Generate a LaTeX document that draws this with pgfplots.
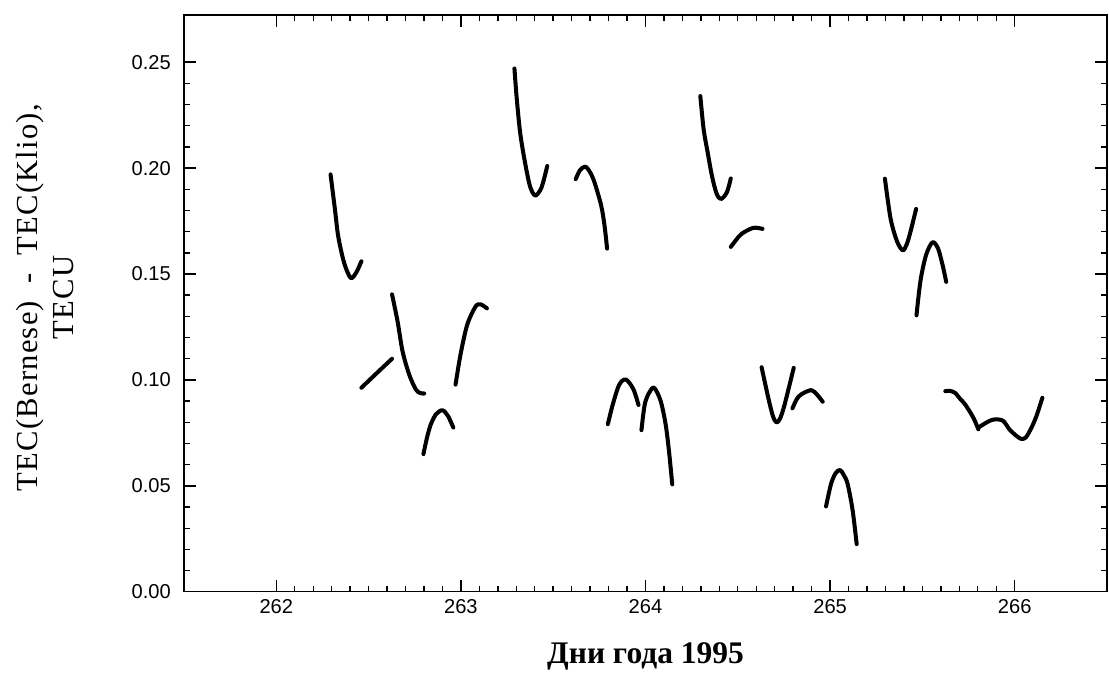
\documentclass[border=0pt]{standalone}
\usepackage{fontspec}
\setmainfont{Liberation Serif}
\newfontfamily\ticksans{Liberation Sans}
\newfontfamily\ylabfont[LetterSpace=4]{Liberation Serif}
\usepackage{pgfplots}
\pgfplotsset{compat=1.18}

% one segment per satellite pass: day of year, TEC difference
\pgfplotsset{seg/.style={black, line width=2.3pt, smooth, tension=0.5, line cap=round, line join=round}}

\begin{document}
\begin{tikzpicture}
\begin{axis}[
  at={(0,0)}, anchor=south west,
  scale only axis, width=18.56cm, height=11.6cm,
  xmin=261.5, xmax=266.5, ymin=0, ymax=0.2723,
  xtick={262,263,264,265,266}, minor x tick num=9,
  ytick={0,0.05,0.10,0.15,0.20,0.25}, minor y tick num=4,
  tick align=inside, major tick length=0.24cm, minor tick length=0.12cm,
  axis line style={line width=0.8pt}, tick style={line width=0.8pt, black},
  x tick label style={/pgf/number format/1000 sep={}},
  y tick label style={/pgf/number format/fixed, /pgf/number format/fixed zerofill, /pgf/number format/precision=2},
  /pgf/number format/assume math mode=true,
  tick label style={font=\ticksans\fontsize{11.5}{13}\selectfont},
  xticklabel style={yshift=-1pt},
  yticklabel style={xshift=-4pt},
  xlabel={Дни года 1995},
  xlabel style={at={(axis description cs:0.5,-0.112)}, anchor=center, font=\bfseries\fontsize{18}{20}\selectfont},
  every axis y label/.style={at={(axis description cs:-0.151,0.51)}, rotate=90, anchor=center, align=center, font=\ylabfont\fontsize{17.5}{20.5}\selectfont},
  ylabel={TEC(Bernese)\ \ -\ \ TEC(Klio),\\TECU},
  clip=false]
\addplot[seg] coordinates {(262.294,0.197) (262.317,0.181) (262.335,0.168) (262.362,0.157) (262.385,0.151) (262.407,0.148) (262.435,0.151) (262.461,0.156)};
\addplot[seg] coordinates {(262.461,0.0963) (262.545,0.1033) (262.627,0.110)};
\addplot[seg] coordinates {(262.627,0.1404) (262.657,0.1276) (262.684,0.1135) (262.72,0.1025) (262.756,0.0955) (262.78,0.0938) (262.801,0.0936)};
\addplot[seg] coordinates {(262.797,0.065) (262.817,0.073) (262.837,0.079) (262.865,0.0838) (262.9,0.0857) (262.93,0.083) (262.959,0.0775)};
\addplot[seg] coordinates {(262.971,0.0978) (262.998,0.112) (263.034,0.126) (263.079,0.1346) (263.106,0.1357) (263.141,0.1338)};
\addplot[seg] coordinates {(263.290,0.247) (263.303,0.2323) (263.321,0.2167) (263.344,0.2042) (263.369,0.1932) (263.385,0.189) (263.405,0.187) (263.437,0.1909) (263.468,0.201)};
\addplot[seg] coordinates {(263.622,0.1948) (263.645,0.199) (263.674,0.2007) (263.70,0.198) (263.724,0.1932) (263.760,0.1823) (263.778,0.1729) (263.792,0.162)};
\addplot[seg] coordinates {(263.796,0.0791) (263.823,0.0885) (263.858,0.0978) (263.894,0.1002) (263.935,0.0955) (263.962,0.0882)};
\addplot[seg] coordinates {(263.978,0.0763) (263.996,0.0885) (264.02,0.094) (264.047,0.0963) (264.082,0.0901) (264.109,0.0791) (264.127,0.0666) (264.145,0.0507)};
\addplot[seg] coordinates {(264.297,0.234) (264.315,0.2183) (264.337,0.2073) (264.360,0.1963) (264.385,0.188) (264.409,0.1854) (264.441,0.1886) (264.462,0.1951)};
\addplot[seg] coordinates {(264.462,0.1628) (264.49,0.166) (264.521,0.169) (264.584,0.1718) (264.634,0.1713)};
\addplot[seg] coordinates {(264.629,0.106) (264.665,0.0916) (264.69,0.083) (264.71,0.0799) (264.73,0.082) (264.754,0.0885) (264.803,0.1057)};
\addplot[seg] coordinates {(264.796,0.0866) (264.82,0.091) (264.844,0.0932) (264.898,0.0952) (264.93,0.093) (264.96,0.0897)};
\addplot[seg] coordinates {(264.978,0.0403) (265.005,0.0509) (265.03,0.056) (265.054,0.0575) (265.075,0.055) (265.095,0.0509) (265.122,0.0385) (265.144,0.0225)};
\addplot[seg] coordinates {(265.297,0.195) (265.328,0.176) (265.364,0.1651) (265.394,0.1612) (265.415,0.164) (265.435,0.1698) (265.466,0.1807)};
\addplot[seg] coordinates {(265.468,0.1305) (265.49,0.147) (265.52,0.159) (265.555,0.165) (265.585,0.162) (265.61,0.154) (265.629,0.1463)};
\addplot[seg] coordinates {(265.624,0.0947) (265.65,0.0948) (265.677,0.0939) (265.705,0.091) (265.731,0.0885) (265.776,0.0822) (265.803,0.0767)};
\addplot[seg] coordinates {(265.803,0.0775) (265.83,0.079) (265.86,0.0805) (265.892,0.0814) (265.937,0.0807) (265.973,0.0765) (266.011,0.0735) (266.035,0.0722) (266.06,0.0728) (266.091,0.0775) (266.118,0.083) (266.15,0.0916)};
\end{axis}
\path (-3.7cm,-1.64cm) rectangle (18.6cm,11.9cm);
\end{tikzpicture}
\end{document}
